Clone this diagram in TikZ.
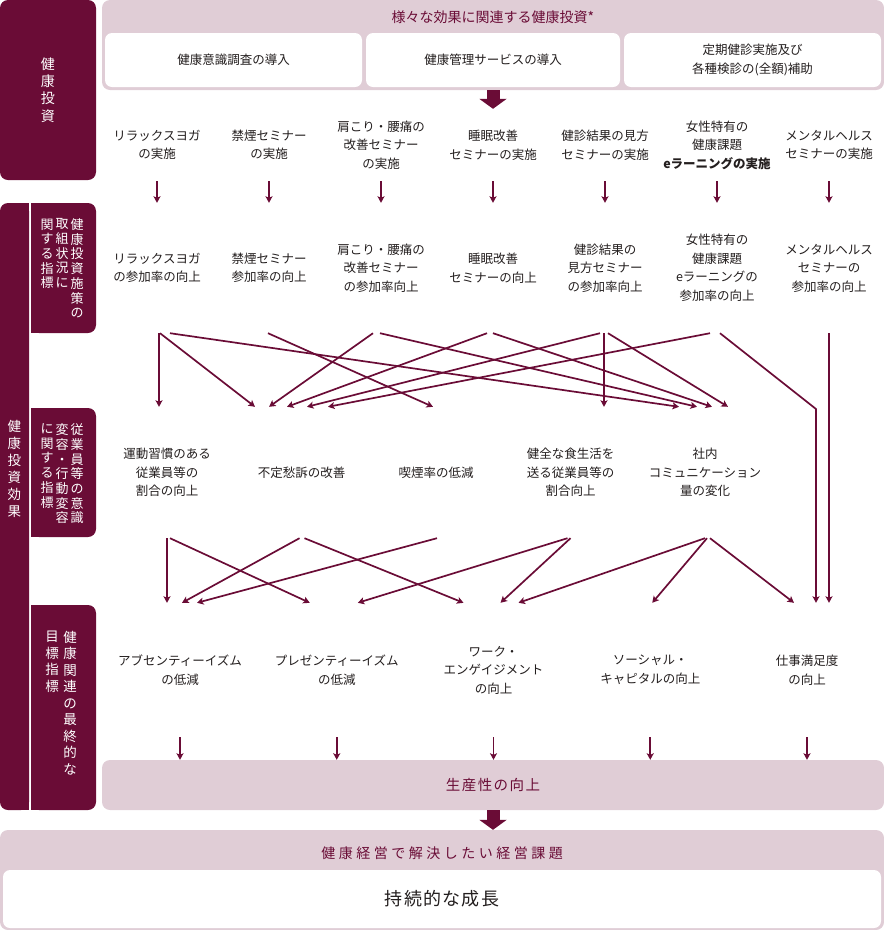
\documentclass[tikz,border=0pt]{standalone}
\usepackage{fontspec}
\setmainfont{Noto Sans CJK JP}
\usepackage{tikz}
\usetikzlibrary{arrows.meta,positioning,calc}
\definecolor{wine}{RGB}{106,12,54}
\definecolor{rosepale}{RGB}{224,205,214}
\definecolor{ink}{RGB}{35,30,30}
\tikzset{
  pane/.style={rectangle,fill=rosepale,rounded corners=8pt,inner sep=0pt},
  wbox/.style={rectangle,fill=white,rounded corners=7pt,align=center,text=ink,
    font=\fontsize{12.5}{18.5}\selectfont},
  darkbox/.style={rectangle,fill=wine,rounded corners=8pt,inner sep=0pt},
  cell/.style={rectangle,align=center,text=ink,inner sep=0pt,
    font=\fontsize{12.5}{18.5}\selectfont},
  act/.style={cell,minimum height=72pt},
  rate/.style={cell,minimum height=130pt},
  behav/.style={cell,minimum height=131pt},
  outc/.style={cell,minimum height=134pt},
  vcol/.style={anchor=north,align=center,text=white,inner sep=0pt,
    font=\fontsize{13}{14.7}\selectfont},
  ttl/.style={text=wine,font=\fontsize{14}{16}\selectfont},
  arr/.style={-{Stealth[length=6.5pt,width=7pt,inset=1.5pt]},line width=1.7pt,draw=wine},
  bigarr/.style={-{Triangle[length=10pt,width=27pt]},line width=13pt,draw=wine}
}

\begin{document}
\begin{tikzpicture}[x=1pt,y=-1pt,node distance=112pt]
  \useasboundingbox (0,0) rectangle (884,930);

  % investment block
  \node[darkbox,minimum width=96pt,minimum height=180pt,text=white,align=center,
    font=\fontsize{14}{17.3}\selectfont] (invlbl) at (48,90) {健\\康\\投\\資};
  \node[pane,minimum width=782pt,minimum height=90pt] (invpane) at (493,45) {};
  \node[ttl] (invttl) at (493,17) {様々な効果に関連する健康投資*};
  \node[wbox,minimum width=257pt,minimum height=54pt] (meas1) at (233.5,60) {健康意識調査の導入};
  \node[wbox,minimum width=254pt,minimum height=54pt] (meas2) at (493,60) {健康管理サービスの導入};
  \node[wbox,minimum width=257pt,minimum height=54pt] (meas3) at (752.5,60) {定期健診実施及び\\各種検診の(全額)補助};

  \node[act] (inv1) at (157,145) {リラックスヨガ\\の実施};
  \node[act,right of=inv1] (inv2) {禁煙セミナー\\の実施};
  \node[act,right of=inv2] (inv3) {肩こり・腰痛の\\改善セミナー\\の実施};
  \node[act,right of=inv3] (inv4) {睡眠改善\\セミナーの実施};
  \node[act,right of=inv4] (inv5) {健診結果の見方\\セミナーの実施};
  \node[act,right of=inv5] (inv6) {女性特有の\\健康課題\\\textbf{eラーニングの実施}};
  \node[act,right of=inv6] (inv7) {メンタルヘルス\\セミナーの実施};

  % effect side labels
  \fill[wine] (10,203) rectangle (29,810);
  \node[darkbox,minimum width=29pt,minimum height=607pt] (effbar) at (14.5,506.5) {};
  \node[vcol,font=\fontsize{13.5}{17}\selectfont] (efflbl) at (14.5,420) {健\\康\\投\\資\\効\\果};

  \fill[wine] (31,203) rectangle (50,333);
  \node[darkbox,minimum width=65pt,minimum height=130pt] (ind1) at (63.5,268) {};
  \node[vcol] (ind1a) at (77,218.5) {健\\康\\投\\資\\施\\策\\の};
  \node[vcol] (ind1b) at (62,218.5) {取\\組\\状\\況\\に};
  \node[vcol] (ind1c) at (47,218.5) {関\\す\\る\\指\\標};

  \fill[wine] (31,408) rectangle (50,537);
  \node[darkbox,minimum width=65pt,minimum height=129pt] (ind2) at (63.5,472.5) {};
  \node[vcol] (ind2a) at (77,423.5) {従\\業\\員\\等\\の\\意\\識};
  \node[vcol] (ind2b) at (62,423.5) {変\\容\\・\\行\\動\\変\\容};
  \node[vcol] (ind2c) at (47,423.5) {に\\関\\す\\る\\指\\標};

  \fill[wine] (31,605) rectangle (50,810);
  \node[darkbox,minimum width=65pt,minimum height=205pt] (ind3) at (63.5,707.5) {};
  \node[vcol,font=\fontsize{13.5}{16.5}\selectfont] (ind3a) at (70,631) {健\\康\\関\\連\\の\\最\\終\\的\\な};
  \node[vcol,font=\fontsize{13.5}{16.5}\selectfont] (ind3b) at (52,631) {目\\標\\指\\標};

  % participation
  \node[rate] (part1) at (157,268) {リラックスヨガ\\の参加率の向上};
  \node[rate,right of=part1] (part2) {禁煙セミナー\\参加率の向上};
  \node[rate,right of=part2] (part3) {肩こり・腰痛の\\改善セミナー\\の参加率向上};
  \node[rate,right of=part3] (part4) {睡眠改善\\セミナーの向上};
  \node[rate,right of=part4] (part5) {健診結果の\\見方セミナー\\の参加率向上};
  \node[rate,right of=part5] (part6) {女性特有の\\健康課題\\eラーニングの\\参加率の向上};
  \node[rate,right of=part6] (part7) {メンタルヘルス\\セミナーの\\参加率の向上};

  % behaviour
  \node[behav] (beh1) at (167,472.5) {運動習慣のある\\従業員等の\\割合の向上};
  \node[behav,node distance=134.5pt,right of=beh1] (beh2) {不定愁訴の改善};
  \node[behav,node distance=134.5pt,right of=beh2] (beh3) {喫煙率の低減};
  \node[behav,node distance=134.5pt,right of=beh3] (beh4) {健全な食生活を\\送る従業員等の\\割合向上};
  \node[behav,node distance=134.5pt,right of=beh4] (beh5) {社内\\コミュニケーション\\量の変化};

  % final goals
  \node[outc] (goal1) at (180,670) {アブセンティーイズム\\の低減};
  \node[outc,node distance=156.75pt,right of=goal1] (goal2) {プレゼンティーイズム\\の低減};
  \node[outc,node distance=156.75pt,right of=goal2] (goal3) {ワーク・\\エンゲイジメント\\の向上};
  \node[outc,node distance=156.75pt,right of=goal3] (goal4) {ソーシャル・\\キャピタルの向上};
  \node[outc,node distance=156.75pt,right of=goal4] (goal5) {仕事満足度\\の向上};

  \node[pane,minimum width=782pt,minimum height=50pt,text=wine,
    font=\fontsize{14.5}{16}\selectfont\addfontfeature{LetterSpace=10}] (prod) at (493,785) {生産性の向上};

  % management issue
  \node[pane,minimum width=884pt,minimum height=100pt] (issue) at (442,880) {};
  \node[ttl,font=\fontsize{14}{16}\selectfont\addfontfeature{LetterSpace=25}] (issuettl) at (442,853) {健康経営で解決したい経営課題};
  \node[wbox,minimum width=878pt,minimum height=58pt,
    font=\fontsize{18}{20}\selectfont\addfontfeature{LetterSpace=7}] (growth) at (442,899) {持続的な成長};

  \coordinate (kink) at (816,409);

  \draw[bigarr] (invpane.south) -- (invpane.south |- inv4.north);
  \draw[bigarr] (prod.south) -- (prod.south |- issue.north);

  \draw[arr] (inv1) -- (part1);
  \draw[arr] (inv2) -- (part2);
  \draw[arr] (inv3) -- (part3);
  \draw[arr] (inv4) -- (part4);
  \draw[arr] (inv5) -- (part5);
  \draw[arr] (inv6) -- (part6);
  \draw[arr] (inv7) -- (part7);

  \draw[arr] ([xshift=2pt]part1.south) -- ([xshift=-8pt]beh1.north);
  \draw[arr] ([xshift=3pt]part1.south) -- ([xshift=-46.5pt]beh2.north);
  \draw[arr] ([xshift=13pt]part1.south) -- ([xshift=-26pt]beh5.north);
  \draw[arr] ([xshift=-1pt]part2.south) -- ([xshift=-3pt]beh3.north);
  \draw[arr] ([xshift=-8pt]part3.south) -- ([xshift=-32.5pt]beh2.north);
  \draw[arr] ([xshift=-1pt]part3.south) -- ([xshift=-8pt]beh5.north);
  \draw[arr] ([xshift=-6pt]part4.south) -- ([xshift=-14.5pt]beh2.north);
  \draw[arr] (part4.south) -- ([xshift=7pt]beh5.north);
  \draw[arr] ([xshift=-1pt]part5.south) -- ([xshift=33.5pt]beh4.north);
  \draw[arr] ([xshift=-5pt]part5.south) -- ([xshift=5.5pt]beh2.north);
  \draw[arr] ([xshift=3pt]part5.south) -- ([xshift=23pt]beh5.north);
  \draw[arr] ([xshift=-7pt]part6.south) -- ([xshift=26.5pt]beh2.north);
  \draw[arr] ([xshift=3pt]part6.south) -- (kink) -- ([xshift=9pt]goal5.north);
  \draw[arr] (part7.south) -- ([xshift=22pt]goal5.north);

  \draw[arr] (beh1.south) -- ([xshift=-13pt]goal1.north);
  \draw[arr] ([xshift=3pt]beh1.south) -- ([xshift=-27pt]goal2.north);
  \draw[arr] ([xshift=-2pt]beh2.south) -- ([xshift=2pt]goal1.north);
  \draw[arr] ([xshift=3pt]beh2.south) -- ([xshift=-30pt]goal3.north);
  \draw[arr] ([xshift=1pt]beh3.south) -- ([xshift=17pt]goal1.north);
  \draw[arr] ([xshift=-3pt]beh4.south) -- ([xshift=21pt]goal2.north);
  \draw[arr] (beh4.south) -- ([xshift=7pt]goal3.north);
  \draw[arr] (beh5.south) -- ([xshift=25pt]goal3.north);
  \draw[arr] ([xshift=2pt]beh5.south) -- ([xshift=2pt]goal4.north);
  \draw[arr] ([xshift=5pt]beh5.south) -- ([xshift=-13pt]goal5.north);

  \draw[arr] (goal1.south) -- (goal1.south |- prod.north);
  \draw[arr] (goal2.south) -- (goal2.south |- prod.north);
  \draw[arr] (goal3.south) -- (goal3.south |- prod.north);
  \draw[arr] (goal4.south) -- (goal4.south |- prod.north);
  \draw[arr] (goal5.south) -- (goal5.south |- prod.north);
\end{tikzpicture}
\end{document}
